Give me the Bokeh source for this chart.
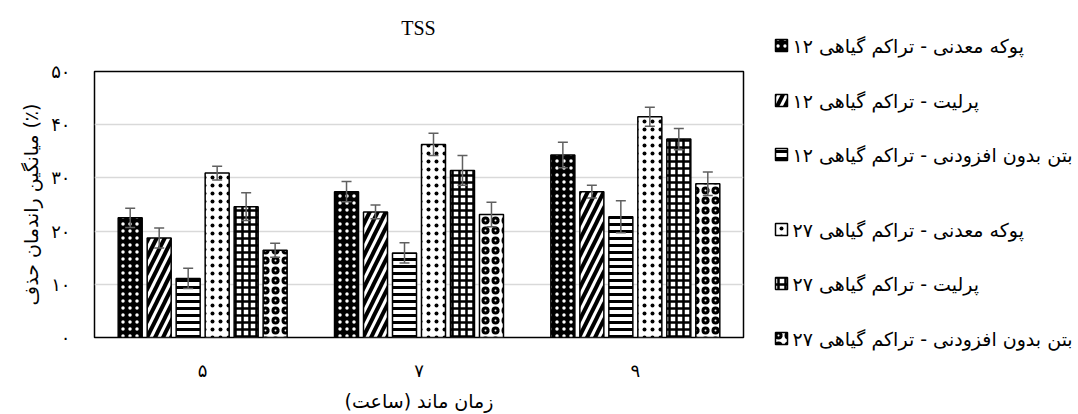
from bokeh.plotting import figure
from bokeh.models import (ColumnDataSource, Whisker, TeeHead, FactorRange, Range1d, FixedTicker)
from bokeh.transform import dodge
from bokeh.layouts import row, column
from bokeh.core.properties import value
from bokeh.embed import file_html
from bokeh.resources import INLINE

# ---- data ----
groups = ["۵", "۷", "۹"]
series_names = [
    "پوکه معدنی - تراکم گیاهی ۱۲",
    "پرلیت - تراکم گیاهی ۱۲",
    "بتن بدون افزودنی - تراکم گیاهی ۱۲",
    "پوکه معدنی - تراکم گیاهی ۲۷",
    "پرلیت - تراکم گیاهی ۲۷",
    "بتن بدون افزودنی - تراکم گیاهی ۲۷",
]
s1 = [22.5, 27.4, 34.3]
s1_err = [1.8, 1.9, 2.4]
s2 = [18.7, 23.6, 27.4]
s2_err = [1.9, 1.3, 1.2]
s3 = [11.1, 15.9, 22.7]
s3_err = [1.9, 1.9, 3.0]
s4 = [30.9, 36.3, 41.5]
s4_err = [1.3, 2.1, 1.8]
s5 = [24.6, 31.4, 37.3]
s5_err = [2.6, 2.8, 2.0]
s6 = [16.4, 23.1, 28.9]
s6_err = [1.3, 2.3, 2.2]
y_ticks = [0, 10, 20, 30, 40, 50]
y_tick_labels = ["۰", "۱۰", "۲۰", "۳۰", "۴۰", "۵۰"]
title_text = "TSS"
x_title = "زمان ماند (ساعت)"
y_title = "میانگین راندمان حذف (٪)"

values = [s1, s2, s3, s4, s5, s6]
errors = [s1_err, s2_err, s3_err, s4_err, s5_err, s6_err]

# ---- styles ----
styles = [
    dict(fill_color="black", hatch_pattern="dot", hatch_color="white", hatch_scale=7, hatch_weight=1),
    dict(fill_color="white", hatch_pattern="/", hatch_color="black", hatch_scale=16, hatch_weight=4),
    dict(fill_color="white", hatch_pattern="-", hatch_color="black", hatch_scale=7, hatch_weight=3),
    dict(fill_color="white", hatch_pattern="dot", hatch_color="black", hatch_scale=8, hatch_weight=1),
    dict(fill_color="white", hatch_pattern="+", hatch_color="black", hatch_scale=7, hatch_weight=2.5),
    dict(fill_color="white", hatch_pattern="ring", hatch_color="black", hatch_scale=10, hatch_weight=3),
]

PERSIAN = "DejaVu Sans"
W_MAIN = 753
H = 414
H_TITLE = 45


def bare(fig):
    fig.grid.visible = False
    fig.outline_line_color = None
    fig.background_fill_color = "white"
    fig.border_fill_color = "white"
    fig.frame_align = False


# ---- title strip ----
tfig = figure(width=W_MAIN, height=H_TITLE, output_backend="svg", toolbar_location=None,
              x_range=Range1d(0, W_MAIN), y_range=Range1d(H_TITLE, 0),
              min_border=0, x_axis_type=None, y_axis_type=None)
bare(tfig)
tfig.text(x=[418], y=[27], text=[title_text], text_align="center", text_baseline="middle",
          text_font=value("Liberation Serif"), text_font_size="20px", text_color="black")

# ---- main chart ----
p = figure(width=W_MAIN, height=H - H_TITLE, output_backend="svg", toolbar_location=None,
           x_range=FactorRange(*groups, range_padding=0), y_range=Range1d(0, 50),
           min_border_left=94, min_border_right=10, min_border_top=71 - H_TITLE,
           min_border_bottom=77)
p.frame_align = False

pitch = 0.134
bw = 0.111
for i in range(6):
    off = (i - 2.5) * pitch
    src = ColumnDataSource(dict(
        g=groups, v=values[i],
        upper=[v + e for v, e in zip(values[i], errors[i])],
        lower=[v - e for v, e in zip(values[i], errors[i])],
    ))
    p.vbar(x=dodge("g", off, range=p.x_range), top="v", width=bw, source=src,
           line_color="black", line_width=1.5, **styles[i])
    w = Whisker(base=dodge("g", off, range=p.x_range), upper="upper", lower="lower", source=src,
                line_color="#606060", line_width=1.5, level="overlay",
                upper_head=TeeHead(size=10, line_color="#606060", line_width=1.5),
                lower_head=TeeHead(size=10, line_color="#606060", line_width=1.5))
    p.add_layout(w)

p.yaxis.ticker = FixedTicker(ticks=y_ticks)
p.yaxis.major_label_overrides = {t: l for t, l in zip(y_ticks, y_tick_labels)}
p.yaxis.axis_line_color = None
p.yaxis.major_tick_line_color = None
p.yaxis.minor_tick_line_color = None
p.yaxis.major_label_text_font = PERSIAN
p.yaxis.major_label_text_font_size = "18px"
p.yaxis.major_label_text_color = "black"
p.yaxis.major_label_standoff = 18
p.yaxis.axis_label = y_title
p.yaxis.axis_label_text_font = PERSIAN
p.yaxis.axis_label_text_font_size = "19px"
p.yaxis.axis_label_text_font_style = "normal"
p.yaxis.axis_label_text_color = "black"
p.yaxis.axis_label_standoff = 6

p.xaxis.axis_line_color = None
p.xaxis.major_tick_line_color = None
p.xaxis.minor_tick_line_color = None
p.xaxis.major_label_text_font = PERSIAN
p.xaxis.major_label_text_font_size = "18px"
p.xaxis.major_label_text_color = "black"
p.xaxis.major_label_standoff = 16
p.xaxis.axis_label = x_title
p.xaxis.axis_label_text_font = PERSIAN
p.xaxis.axis_label_text_font_size = "19px"
p.xaxis.axis_label_text_font_style = "normal"
p.xaxis.axis_label_text_color = "black"
p.xaxis.axis_label_standoff = 6

p.xgrid.grid_line_color = None
p.ygrid.grid_line_color = "#d9d9d9"
p.ygrid.grid_line_width = 1.5
p.outline_line_color = "black"
p.outline_line_width = 1.5
p.background_fill_color = "white"
p.border_fill_color = "white"

# ---- legend panel (own figure, y measured downward in pixels) ----
W_LEG = 1078 - W_MAIN
leg_rows_y = [45, 100, 154, 229, 283, 338]
leg = figure(width=W_LEG, height=H, output_backend="svg", toolbar_location=None,
             x_range=Range1d(0, W_LEG), y_range=Range1d(H, 0),
             min_border=0, x_axis_type=None, y_axis_type=None)
bare(leg)
for i in range(6):
    leg.rect(x=[28], y=[leg_rows_y[i]], width=12, height=12,
             width_units="screen", height_units="screen",
             line_color="black", line_width=1.5, **styles[i])
leg.text(x=[39] * 6, y=leg_rows_y, text=series_names, text_align="left",
         text_baseline="middle", text_font=value(PERSIAN), text_font_size="19px",
         text_color="black")

layout = row(column(tfig, p, spacing=0), leg, spacing=0)
open("out.html", "w").write(file_html(layout, INLINE))
